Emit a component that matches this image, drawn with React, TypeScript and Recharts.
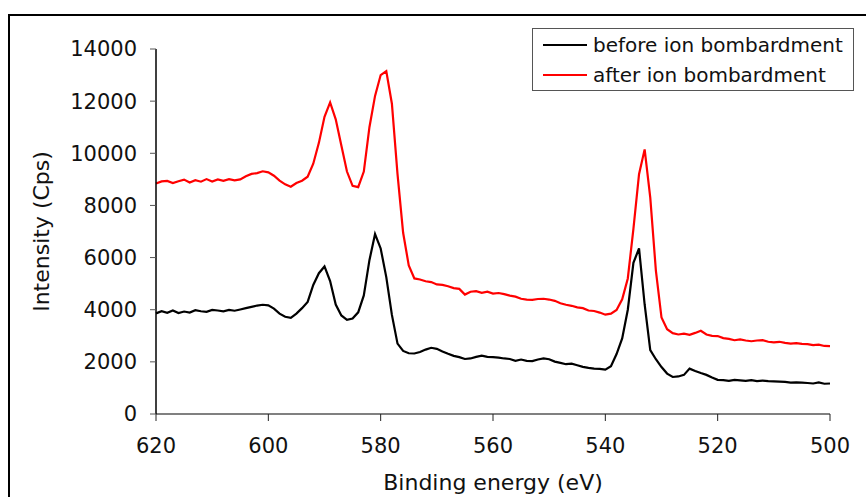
import React from 'react';
import { Label, Legend, Line, LineChart, XAxis, YAxis } from 'recharts';

const FONT = '"DejaVu Sans", Verdana, sans-serif';

// binding energy (eV), 620 -> 500 in 1 eV steps
const energy = [
  620, 619, 618, 617, 616, 615, 614, 613, 612, 611, 610, 609, 608, 607, 606, 605, 604, 603, 602, 601,
  600, 599, 598, 597, 596, 595, 594, 593, 592, 591, 590, 589, 588, 587, 586, 585, 584, 583, 582, 581,
  580, 579, 578, 577, 576, 575, 574, 573, 572, 571, 570, 569, 568, 567, 566, 565, 564, 563, 562, 561,
  560, 559, 558, 557, 556, 555, 554, 553, 552, 551, 550, 549, 548, 547, 546, 545, 544, 543, 542, 541,
  540, 539, 538, 537, 536, 535, 534, 533, 532, 531, 530, 529, 528, 527, 526, 525, 524, 523, 522, 521,
  520, 519, 518, 517, 516, 515, 514, 513, 512, 511, 510, 509, 508, 507, 506, 505, 504, 503, 502, 501,
  500,
];

const before = [
  3860, 3940, 3880, 3970, 3870, 3930, 3890, 3980, 3940, 3920, 3990, 3970, 3940, 3990, 3960, 4010, 4060, 4110, 4160, 4190,
  4170, 4040, 3850, 3730, 3690, 3850, 4060, 4300, 4950, 5400, 5660, 5100, 4200, 3780, 3610, 3660, 3900, 4550, 5900, 6900,
  6350, 5250, 3800, 2700, 2420, 2330, 2320, 2380, 2470, 2540, 2500, 2400, 2310, 2230, 2180, 2110, 2130, 2190, 2240, 2190,
  2180, 2160, 2130, 2110, 2040, 2090, 2040, 2030, 2090, 2130, 2100, 2010, 1960, 1910, 1930, 1870, 1810, 1770, 1740, 1730,
  1700, 1830, 2300, 2900, 4000, 5800, 6350, 4200, 2450, 2100, 1800, 1550, 1420, 1440, 1500, 1740, 1650, 1570, 1500, 1400,
  1310, 1300, 1270, 1310, 1290, 1270, 1300, 1260, 1280, 1260, 1250, 1240, 1230, 1200, 1210, 1200, 1190, 1170, 1210, 1160,
  1170,
];

const after = [
  8840, 8920, 8940, 8860, 8930, 8990, 8880, 8970, 8910, 9010, 8920, 9000, 8940, 9010, 8960, 9000, 9120, 9210, 9240, 9310,
  9270, 9140, 8950, 8810, 8720, 8860, 8950, 9100, 9600, 10400, 11400, 11950, 11300, 10300, 9300, 8750, 8700, 9300, 11000, 12200,
  13000, 13150, 11900, 9200, 6950, 5700, 5200, 5160, 5090, 5060, 4970, 4950, 4900, 4830, 4800, 4580, 4690, 4710, 4650, 4690,
  4620, 4640, 4600, 4540, 4500, 4420, 4390, 4380, 4410, 4420, 4390, 4340, 4250, 4190, 4150, 4090, 4060, 3970, 3950, 3890,
  3810, 3850, 3990, 4400, 5200, 7100, 9200, 10150, 8300, 5500, 3700, 3250, 3100, 3050, 3080, 3040, 3110, 3190, 3050, 3000,
  2990, 2910, 2880, 2830, 2860, 2820, 2790, 2820, 2830, 2770, 2750, 2770, 2730, 2700, 2720, 2690, 2680, 2640, 2660, 2610,
  2600,
];

const seriesOrder = ['before ion bombardment', 'after ion bombardment'];
const xTicks = [620, 600, 580, 560, 540, 520, 500];
const yTicks = [0, 2000, 4000, 6000, 8000, 10000, 12000, 14000];

const data = energy.map((e, i) => ({ energy: e, before: before[i], after: after[i] }));

const LegendBox = (props: any) => {
  const items = [...(props.payload || [])].sort(
    (a: any, b: any) => seriesOrder.indexOf(a.value) - seriesOrder.indexOf(b.value)
  );
  return (
    <div style={{ paddingTop: 1, fontFamily: FONT, fontSize: 20, color: '#111' }}>
      {items.map((it: any) => (
        <div key={it.value} style={{ display: 'flex', alignItems: 'center', height: 30 }}>
          <span style={{ display: 'inline-block', width: 44, height: 2, background: it.color, marginLeft: 10, marginRight: 6 }} />
          <span style={{ lineHeight: '30px', whiteSpace: 'nowrap' }}>{it.value}</span>
        </div>
      ))}
    </div>
  );
};

const YTitle = (props: any) => {
  const vb = props.viewBox || { x: 66, y: 49, width: 90, height: 365 };
  const cx = vb.x - 25;
  const cy = vb.y + vb.height / 2;
  return (
    <text
      x={cx}
      y={cy}
      transform={`rotate(-90, ${cx}, ${cy})`}
      textAnchor="middle"
      dominantBaseline="central"
      fontFamily={FONT}
      fontSize={22}
      fill="#111"
    >
      Intensity (Cps)
    </text>
  );
};

export default function App() {
  return (
    <div style={{ position: 'fixed', left: 0, top: 0, width: 866, height: 497, overflow: 'hidden', background: '#fff' }}>
      <div
        style={{
          position: 'absolute',
          left: 8,
          top: 14,
          width: 900,
          height: 600,
          border: '2px solid #000',
        }}
      />
      <div style={{ position: 'absolute', left: 0, top: 0 }}>
        <LineChart width={866} height={497} data={data} margin={{ top: 49, right: 36, bottom: 23, left: 66 }}>
          <XAxis
            dataKey="energy"
            type="number"
            domain={[500, 620]}
            reversed
            ticks={xTicks}
            height={60}
            tickSize={7}
            tickMargin={17}
            axisLine={{ stroke: '#808080', strokeWidth: 2 }}
            tickLine={{ stroke: '#222' }}
            tick={{ fill: '#111', fontSize: 21, fontFamily: FONT }}
          >
            <Label value="Binding energy (eV)" position="bottom" offset={0} fill="#111" fontSize={22} fontFamily={FONT} />
          </XAxis>
          <YAxis
            type="number"
            domain={[0, 14000]}
            ticks={yTicks}
            width={90}
            tickSize={6}
            tickMargin={13}
            axisLine={{ stroke: '#000', strokeWidth: 1.5 }}
            tickLine={{ stroke: '#555' }}
            tick={{ fill: '#111', fontSize: 21, fontFamily: FONT }}
          >
            <Label content={YTitle} />
          </YAxis>
          <Legend
            content={LegendBox}
            layout="horizontal"
            verticalAlign="middle"
            align="center"
            wrapperStyle={{
              position: 'absolute',
              left: 532,
              top: 28,
              width: 322,
              height: 63,
              boxSizing: 'border-box',
              border: '1.5px solid #555',
              background: '#fff',
            }}
          />
          <Line
            type="linear"
            dataKey="before"
            name="before ion bombardment"
            stroke="#000"
            strokeWidth={2.2}
            dot={false}
            isAnimationActive={false}
          />
          <Line
            type="linear"
            dataKey="after"
            name="after ion bombardment"
            stroke="#ff0000"
            strokeWidth={2.2}
            dot={false}
            isAnimationActive={false}
          />
        </LineChart>
      </div>
    </div>
  );
}
